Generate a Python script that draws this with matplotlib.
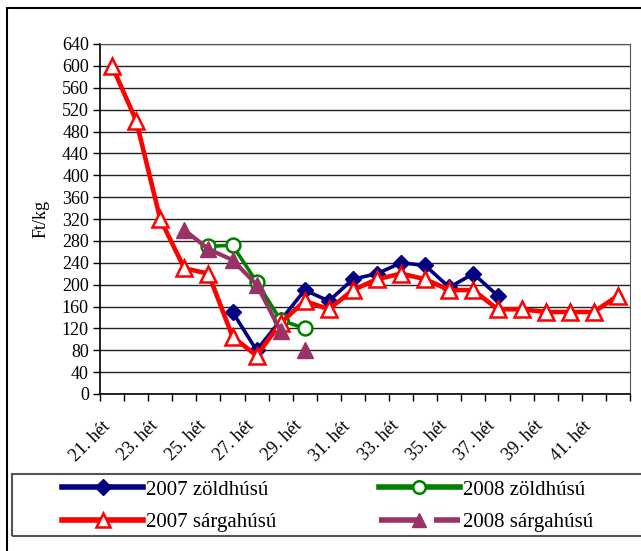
import numpy as np
import matplotlib.pyplot as plt
import matplotlib.transforms as mtransforms
from matplotlib.lines import Line2D
from matplotlib.patches import Rectangle

plt.rcParams['font.family'] = ['Liberation Serif', 'DejaVu Serif']

# weeks on the x axis (21. hét ... 42. hét)
weeks = list(range(21, 43))
tick_weeks = list(range(21, 42, 2))
tick_labels = [f'{w}. hét' for w in tick_weeks]

# 2007 zöldhúsú, weeks 26-37
zold_2007_weeks = list(range(26, 38))
zold_2007 = [150, 80, 135, 190, 170, 210, 220, 240, 235, 195, 220, 180]

# 2008 zöldhúsú, weeks 25-29
zold_2008_weeks = list(range(25, 30))
zold_2008 = [270, 272, 205, 135, 120]

# 2007 sárgahúsú, weeks 21-42
sarga_2007_weeks = weeks
sarga_2007 = [600, 500, 320, 230, 220, 105, 70, 130, 170, 155, 190,
              210, 220, 210, 190, 190, 155, 155, 150, 150, 150, 180]

# 2008 sárgahúsú, weeks 24-29
sarga_2008_weeks = list(range(24, 30))
sarga_2008 = [300, 265, 245, 200, 115, 80]

c_blue = '#000080'
c_green = '#008000'
c_red = '#ff0000'
c_purple = '#993366'

fig = plt.figure(figsize=(6.41, 5.51), dpi=100)
ax = fig.add_axes([100 / 641, 1 - 394 / 551, 530 / 641, 350 / 551])

ax.plot(zold_2007_weeks, zold_2007, color=c_blue, lw=2.6, marker='D',
        ms=8.5, mfc=c_blue, mec=c_blue, zorder=3)
ax.plot(zold_2008_weeks, zold_2008, color=c_green, lw=2.6, marker='o',
        ms=10, mfc='white', mec=c_green, mew=1.8, zorder=4)
ax.plot(sarga_2007_weeks, sarga_2007, color=c_red, lw=3.3, marker='^',
        ms=12, mfc='white', mec=c_red, mew=1.8, zorder=5)
# the last purple segment is not visible in the original
ax.plot(sarga_2008_weeks[:-1], sarga_2008[:-1], color=c_purple, lw=3, zorder=6)
ax.plot(sarga_2008_weeks, sarga_2008, ls='none', marker='^', ms=12,
        mfc=c_purple, mec=c_purple, zorder=6)

ax.set_xlim(weeks[0] - 0.5, weeks[-1] + 0.5)
ax.set_ylim(0, 640)
ax.set_yticks(np.arange(0, 641, 40))
ax.yaxis.grid(True, color='#222222', lw=1)
ax.set_axisbelow(True)

ax.set_xticks(tick_weeks)
ax.set_xticklabels(tick_labels, rotation=45, ha='right', rotation_mode='anchor')
ax.set_xticks(np.arange(weeks[0] - 0.5, weeks[-1] + 0.6, 1), minor=True)
ax.tick_params(axis='x', which='major', length=0, labelsize=13, pad=17)
ax.tick_params(axis='x', which='minor', length=5, width=1)
ax.tick_params(axis='y', length=5, width=1, labelsize=13, pad=3)
ax.set_ylabel('Ft/kg', fontsize=13, labelpad=9)

shift = mtransforms.ScaledTranslation(-11 / 100, 0, fig.dpi_scale_trans)
for lab in ax.get_xticklabels():
    lab.set_transform(lab.get_transform() + shift)

for s in ['top', 'right']:
    ax.spines[s].set_color('#555555')
for s in ['left', 'bottom']:
    ax.spines[s].set_color('black')
    ax.spines[s].set_linewidth(1.2)

# chart border (cropped at right and bottom in the original)
fig.patches.append(Rectangle((7 / 641, -0.1), 1.2, 1.1 - 8 / 551,
                             transform=fig.transFigure, fill=False,
                             ec='black', lw=1.5))
# legend box
fig.patches.append(Rectangle((12 / 641, 1 - 536 / 551), 1.2, 62 / 551,
                             transform=fig.transFigure, fill=False,
                             ec='#555555', lw=1.5))

handles = [
    Line2D([], [], color=c_blue, lw=4, marker='D', ms=8.5, mfc=c_blue, mec=c_blue),
    Line2D([], [], color=c_red, lw=4, marker='^', ms=10, mfc='white', mec=c_red, mew=1.8),
    Line2D([], [], color=c_green, lw=4, marker='o', ms=9, mfc='white', mec=c_green, mew=1.8),
    Line2D([], [], color=c_purple, lw=4, marker='^', ms=10, mfc=c_purple,
           mec=c_purple, dashes=(7.4, 2.5)),
]
labels = ['2007 zöldhúsú', '2007 sárgahúsú', '2008 zöldhúsú', '2008 sárgahúsú']
fig.legend(handles, labels, ncol=2, loc='upper left',
           bbox_to_anchor=(62 / 641, 1 - 480 / 551), frameon=False,
           fontsize=15, handlelength=3.9, handletextpad=0.15,
           columnspacing=4.9, labelspacing=0.62, borderpad=0,
           borderaxespad=0, numpoints=1)

fig.savefig('out.png', dpi=100)
